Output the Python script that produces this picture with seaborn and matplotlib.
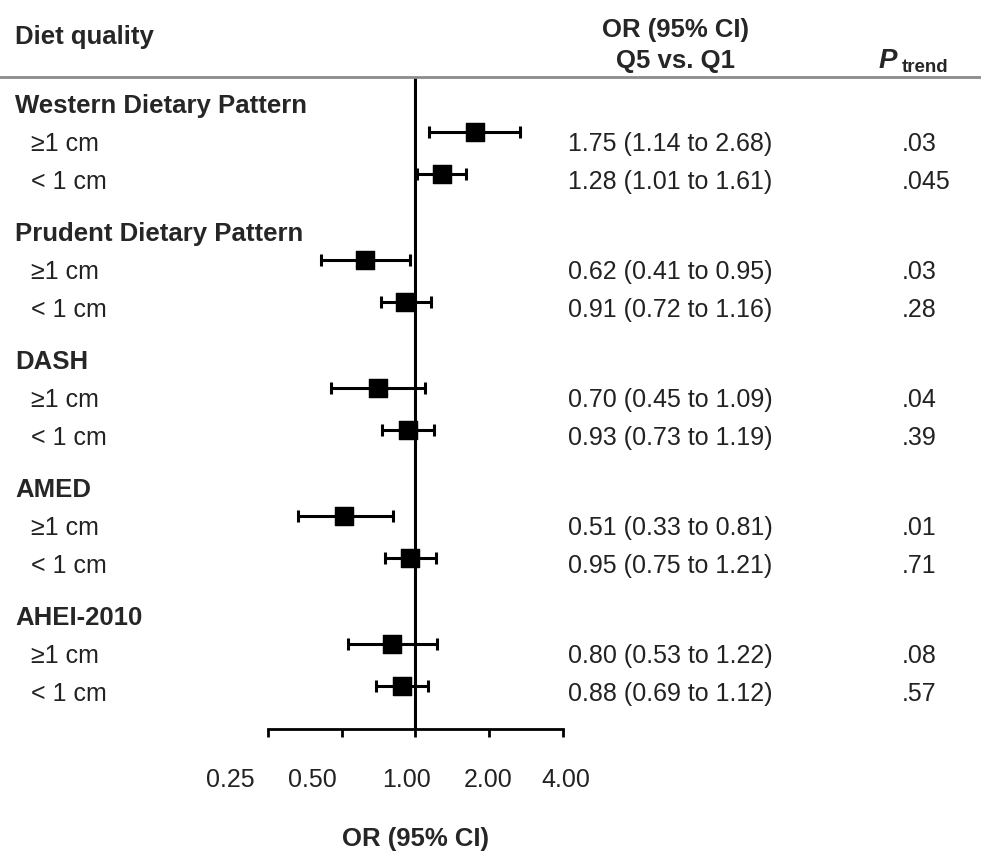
import numpy as np
import pandas as pd
import matplotlib
matplotlib.use("Agg")
import matplotlib.pyplot as plt
import seaborn as sns
from matplotlib.lines import Line2D
from matplotlib.ticker import NullLocator
from matplotlib.transforms import blended_transform_factory, ScaledTranslation

# data
groups = ["Western Dietary Pattern", "Prudent Dietary Pattern", "DASH", "AMED", "AHEI-2010"]
or_ge = [1.75, 0.62, 0.70, 0.51, 0.80]
lo_ge = [1.14, 0.41, 0.45, 0.33, 0.53]
hi_ge = [2.68, 0.95, 1.09, 0.81, 1.22]
or_lt = [1.28, 0.91, 0.93, 0.95, 0.88]
lo_lt = [1.01, 0.72, 0.73, 0.75, 0.69]
hi_lt = [1.61, 1.16, 1.19, 1.21, 1.12]
p_ge = [".03", ".03", ".04", ".01", ".08"]
p_lt = [".045", ".28", ".39", ".71", ".57"]
sub_labels = ["\u22651 cm", "< 1 cm"]
tick_vals = [0.25, 0.5, 1, 2, 4]
tick_labels = ["0.25", "0.50", "1.00", "2.00", "4.00"]

rows = []
for g in range(len(groups)):
    rows.append(dict(y=g * 3 + 1, sub=sub_labels[0], OR=or_ge[g], lo=lo_ge[g], hi=hi_ge[g], p=p_ge[g], dy=0.29))
    rows.append(dict(y=g * 3 + 2, sub=sub_labels[1], OR=or_lt[g], lo=lo_lt[g], hi=hi_lt[g], p=p_lt[g], dy=0.18))
df = pd.DataFrame(rows)

sns.set_theme(style="white")
plt.rcParams['font.family'] = ['Liberation Sans', 'DejaVu Sans']

W, H = 981, 851
fig = plt.figure(figsize=(W / 100, H / 100), dpi=100)
fx = lambda px: px / W
fy = lambda py: 1 - py / H

ax = fig.add_axes([fx(268), fy(729), (563 - 268) / W, (729 - 77) / H])
ax.set_xscale('log', base=2)

ax.errorbar(df['OR'], df['y'], xerr=[df['OR'] - df['lo'], df['hi'] - df['OR']],
            fmt='none', ecolor='black', elinewidth=2.2, capsize=4, capthick=2.2, zorder=2)
sns.scatterplot(data=df, x='OR', y='y', marker='s', s=170, color='black',
                edgecolor='black', ax=ax, zorder=3, legend=False)
ax.axvline(1, color='black', lw=2.2, zorder=1)

ax.set_xlim(0.25, 4)
ax.set_ylim(15.0, -0.283)
ax.set_xlabel("")
ax.set_ylabel("")
ax.set_yticks([])
ax.set_xticks(tick_vals)
ax.set_xticklabels([])
ax.xaxis.set_minor_locator(NullLocator())
ax.tick_params(axis='x', direction='out', length=6, width=2, color='black', bottom=True)
for s in ['top', 'right', 'left']:
    ax.spines[s].set_visible(False)
ax.spines['bottom'].set_color('black')
ax.spines['bottom'].set_linewidth(2)
ax.patch.set_alpha(0)

fs = 18
fb = 18.5
txt = '#222222'
# tick labels, shifted like the original
shifts = [-38, -29, -9, -1, 3]
for v, lab, sh in zip(tick_vals, tick_labels, shifts):
    ax.text(v, 0, lab, transform=ax.get_xaxis_transform() + ScaledTranslation(sh / 100, -51 / 100, fig.dpi_scale_trans),
            ha='center', va='center', fontsize=fs, color=txt)

# row text
trans = blended_transform_factory(fig.transFigure, ax.transData)
for g, name in enumerate(groups):
    ax.text(fx(15), g * 3 + 0.40, name, transform=trans, ha='left', va='center', fontsize=fb, fontweight='bold')
for _, r in df.iterrows():
    ty = r['y'] + r['dy']
    ax.text(fx(31), ty, r['sub'], transform=trans, ha='left', va='center', fontsize=fs, color=txt)
    ax.text(fx(568), ty, f"{r['OR']:.2f} ({r['lo']:.2f} to {r['hi']:.2f})", transform=trans,
            ha='left', va='center', fontsize=fs, color=txt)
    ax.text(fx(902), ty, r['p'], transform=trans, ha='left', va='center', fontsize=fs, color=txt)

# header
fig.add_artist(Line2D([0, 1], [fy(77), fy(77)], transform=fig.transFigure, color='#8c8c8c', lw=2))
fig.text(fx(15), fy(44), "Diet quality", ha='left', va='baseline', fontsize=fb, fontweight='bold')
fig.text(fx(676), fy(37), "OR (95% CI)", ha='center', va='baseline', fontsize=fb, fontweight='bold')
fig.text(fx(675), fy(68), "Q5 vs. Q1", ha='center', va='baseline', fontsize=fb, fontweight='bold')
fig.text(fx(879), fy(68), "P", ha='left', va='baseline', fontsize=20, fontweight='bold', fontstyle='italic')
fig.text(fx(902), fy(72), "trend", ha='left', va='baseline', fontsize=13.5, fontweight='bold')
fig.text(fx(416), fy(846), "OR (95% CI)", ha='center', va='baseline', fontsize=fb, fontweight='bold')

fig.savefig("out.png", dpi=100, facecolor='white')
